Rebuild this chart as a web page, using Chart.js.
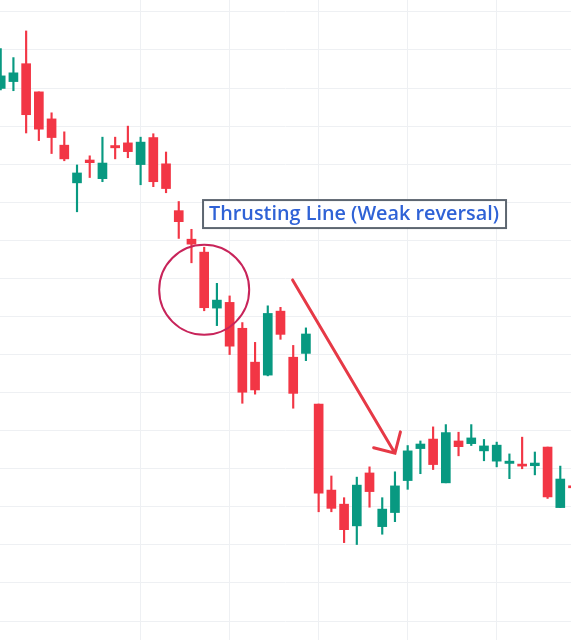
<!DOCTYPE html>
<html>
<head>
<meta charset="utf-8">
<script src="https://cdn.jsdelivr.net/npm/chart.js@4.4.1/dist/chart.umd.min.js"></script>
<style>
  html, body { margin: 0; padding: 0; background: #fff; }
  #wrap { width: 571px; height: 640px; position: relative; }
</style>
</head>
<body>
<div id="wrap"><canvas id="candles"></canvas></div>
<script>
// OHLC values (one candle per session)
const opens  = [189.9, 191.7, 196.4, 189.0, 181.9, 175.0, 165.1, 171.1, 166.2, 174.9,
                175.6, 169.9, 177.0, 170.1, 157.8, 150.3, 146.9, 132.2, 133.7, 126.9,
                118.0, 114.6, 131.4, 119.3, 120.3, 107.0, 84.4, 80.7, 75.0, 88.9,
                74.8, 78.5, 86.9, 95.3, 97.8, 86.3, 97.3, 96.6, 94.7, 92.0,
                91.4, 91.2, 90.8, 95.7, 79.8, 85.5];
const highs  = [200.4, 198.0, 205.0, 189.0, 183.5, 178.5, 169.8, 172.2, 177.1, 177.1,
                180.0, 177.1, 178.0, 173.2, 160.2, 152.9, 148.2, 138.7, 135.4, 128.4,
                123.2, 132.8, 132.4, 122.4, 127.0, 107.0, 88.1, 82.4, 87.8, 90.5,
                82.4, 89.2, 96.1, 97.3, 101.0, 101.6, 99.6, 101.6, 97.7, 97.0,
                93.9, 98.3, 94.4, 95.7, 90.7, 85.7];
const lows   = [189.5, 189.3, 178.2, 176.2, 172.8, 170.9, 157.5, 166.5, 165.4, 171.4,
                171.7, 164.6, 164.1, 162.5, 150.5, 144.1, 131.5, 127.6, 120.0, 107.2,
                109.6, 114.4, 124.0, 105.9, 118.4, 78.7, 78.7, 70.6, 70.1, 79.9,
                72.8, 76.1, 84.6, 88.7, 89.8, 86.3, 93.4, 96.1, 92.1, 90.5,
                87.4, 90.0, 88.4, 82.2, 79.8, 84.4];
const closes = [193.2, 194.0, 183.0, 179.2, 177.0, 171.4, 167.7, 170.4, 170.3, 174.3,
                173.3, 175.8, 165.4, 163.6, 154.9, 149.0, 132.3, 134.3, 122.2, 110.1,
                110.7, 130.8, 125.3, 109.8, 125.4, 83.6, 79.6, 74.0, 85.7, 84.0,
                79.4, 85.5, 94.7, 96.5, 91.1, 99.5, 95.8, 98.1, 96.0, 96.2,
                92.0, 90.7, 91.5, 82.6, 87.3, 85.0];

// grid positions (price levels and session marks)
const priceLines = [50, 60, 70, 80, 90, 100, 110, 120, 130, 140, 150, 160, 170, 180, 190, 200, 210];
const sessionLines = [11, 18, 25, 32, 39];

const labelText = 'Thrusting Line (Weak reversal)';

const UP = '#089981';
const DOWN = '#f23645';
const idx = opens.map((_, i) => i);
const colors = idx.map(i => (closes[i] >= opens[i] ? UP : DOWN));

// pattern notes drawn on top of the candles, anchored in data units
const notes = {
  afterDatasetsDraw(chart) {
    const { ctx } = chart;
    const x = chart.scales.x, y = chart.scales.y;
    ctx.save();

    // circle round the two-candle pattern
    ctx.beginPath();
    ctx.arc(x.getPixelForValue(16.0), y.getPixelForValue(137.0), 45, 0, Math.PI * 2);
    ctx.strokeStyle = '#c8245a';
    ctx.lineWidth = 2;
    ctx.stroke();

    // label box
    let size = 20;
    ctx.font = '600 ' + size + 'px "Open Sans"';
    size = size * 290 / ctx.measureText(labelText).width;
    ctx.font = '600 ' + size.toFixed(2) + 'px "Open Sans"';
    const lx = x.getPixelForValue(15.91), ly = y.getPixelForValue(156.9);
    const w = 303, h = 28;
    ctx.fillStyle = '#fff';
    ctx.fillRect(lx, ly - h / 2, w, h);
    ctx.strokeStyle = '#5d6670';
    ctx.lineWidth = 2;
    ctx.strokeRect(lx, ly - h / 2, w, h);
    ctx.fillStyle = '#2f62d6';
    ctx.textBaseline = 'middle';
    ctx.fillText(labelText, lx + 6, ly + 0.5);

    // arrow down towards the continuation
    const x1 = x.getPixelForValue(22.95), y1 = y.getPixelForValue(139.6);
    const x2 = x.getPixelForValue(31.0), y2 = y.getPixelForValue(94.1);
    const back = Math.atan2(y1 - y2, x1 - x2);
    ctx.strokeStyle = '#e63946';
    ctx.lineWidth = 3;
    ctx.lineCap = 'round';
    ctx.beginPath();
    ctx.moveTo(x1, y1);
    ctx.lineTo(x2, y2);
    ctx.moveTo(x2 + 22 * Math.cos(back + Math.PI / 4), y2 + 22 * Math.sin(back + Math.PI / 4));
    ctx.lineTo(x2, y2);
    ctx.lineTo(x2 + 22 * Math.cos(back - Math.PI / 4), y2 + 22 * Math.sin(back - Math.PI / 4));
    ctx.stroke();

    ctx.restore();
  }
};

new Chart(document.getElementById('candles'), {
  type: 'bar',
  data: {
    datasets: [
      {
        label: 'wick',
        data: idx.map(i => ({ x: i, y: [lows[i], highs[i]] })),
        backgroundColor: colors,
        barThickness: 1.5,
        grouped: false,
        order: 2
      },
      {
        label: 'body',
        data: idx.map(i => ({ x: i, y: [opens[i], closes[i]] })),
        backgroundColor: colors,
        barThickness: 9,
        minBarLength: 2,
        grouped: false,
        order: 1
      }
    ]
  },
  options: {
    responsive: true,
    maintainAspectRatio: false,
    animation: false,
    layout: { padding: 0 },
    scales: {
      x: {
        type: 'linear',
        min: -0.055,
        max: 44.842,
        offset: false,
        grid: { color: '#eef0f3', drawTicks: false, offset: false },
        border: { display: false },
        ticks: { display: false },
        afterBuildTicks: s => { s.ticks = sessionLines.map(v => ({ value: v })); }
      },
      y: {
        min: 45.02,
        max: 213.13,
        grid: { color: '#eef0f3', drawTicks: false },
        border: { display: false },
        ticks: { display: false },
        afterBuildTicks: s => { s.ticks = priceLines.map(v => ({ value: v })); }
      }
    },
    plugins: {
      legend: { display: false },
      tooltip: { enabled: false }
    }
  },
  plugins: [notes]
});
</script>
</body>
</html>
